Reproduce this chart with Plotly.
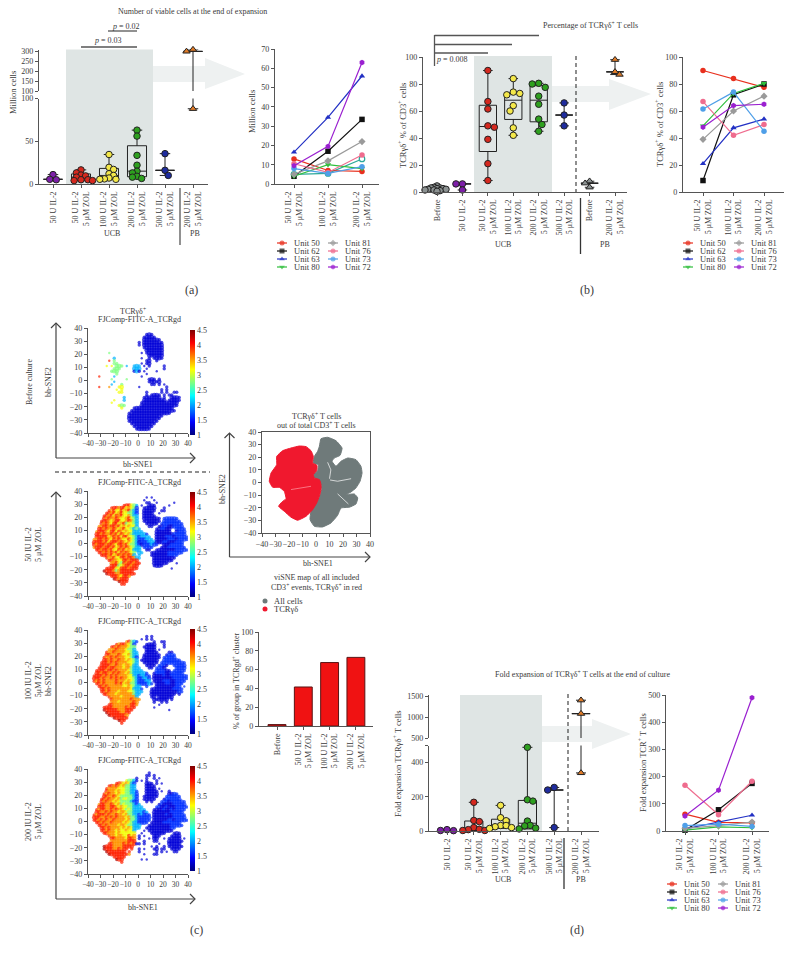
import plotly.graph_objects as go

W, H = 793, 956
FONT = "Liberation Serif"
INK = "#3a3a3a"
AXC = "#555555"
LINEK = "#222222"

# ------------------- data ---------------------
UNITS = ["Unit 50", "Unit 62", "Unit 63", "Unit 80", "Unit 81", "Unit 76", "Unit 73", "Unit 72"]
UNIT_COLORS = ["#e8301e", "#111111", "#2230c4", "#2fbf3c", "#9a9a9a", "#ef6c8e", "#4f9fe8", "#9a20d0"]
UNIT_SYMBOLS = ["circle", "square", "triangle-up", "triangle-down", "diamond", "circle", "circle", "hexagon"]
LINE_TICKS = ["50 U IL-2<br>5 μM ZOL", "100 U IL-2<br>5 μM ZOL", "200 U IL-2<br>5 μM ZOL"]

A_TICKS = ["50 U IL-2", "50 U IL-2<br>5 μM ZOL", "100 U IL-2<br>5 μM ZOL", "200 U IL-2<br>5 μM ZOL",
           "500 U IL-2<br>5 μM ZOL", "200 U IL-2<br>5 μM ZOL"]
B_TICKS = ["Before", "50 U IL-2", "50 U IL-2<br>5 μM ZOL", "100 U IL-2<br>5 μM ZOL", "200 U IL-2<br>5 μM ZOL",
           "500 U IL-2<br>5 μM ZOL", "Before", "200 U IL-2<br>5 μM ZOL"]

A_LINES = [[13, 7, 6.5], [4, 17, 33.5], [16.5, 34.5, 56], [4, 10, 8], [5, 12, 22], [10.5, 6, 15], [8, 5.5, 9], [9.5, 19.5, 63]]
A_EXTRA = [5, 5.5, 13]
A_50 = [11, 5.5, 5]
A_500 = [35.5, 16, 10]
A_PB = [307, 298, 88]

B_LINES = [[90, 84, 77.5], [8.5, 72, 80], [21, 47.5, 54], [49, 73, 80.5], [39, 60, 71], [67, 42, 50], [61.5, 74, 45], [48, 64, 65]]
B_BEFORE = [4.5, 3.5, 3, 3, 2.5, 2.5, 2, 2, 1.5, 1.5, 1, 0.5]
B_50 = [6, 6, 1.5]
B_500 = [66, 57, 49]
B_PB_BEFORE = [8, 6.5, 3.5]
B_PB = [98, 89, 87]

D_LINES = [[62, 32, 30], [3, 78, 175], [8, 32, 58], [3, 15, 12], [10, 20, 33], [168, 60, 183], [20, 25, 17], [55, 150, 490]]
D_50 = [8, 3, 2]
D_500 = [255, 240, 20]
D_PB = [1400, 1080, 340]

BAR_TICKS = ["Before", "50 U IL-2<br>5 μM ZOL", "100 U IL-2<br>5 μM ZOL", "200 U IL-2<br>5 μM ZOL"]
BAR_VALUES = [1.5, 41.5, 67.5, 73]

GROUP_COLORS = {"purple": "#7d1fa8", "red": "#d5281e", "yellow": "#f4e84a", "green": "#2ea01f",
                "blue": "#1f2c9e", "orange": "#e07b27", "grey": "#8c9292"}

# colour level read per 2x2-unit cell, top row y=39 .. bottom row y=-39, left col x=-39 .. right col x=39
LEVELS = {"1": 1.3, "2": 1.6, "3": 2.05, "4": 2.75, "5": 3.15, "6": 3.55, "7": 3.95, "8": 4.35}
E = "." * 20
TSNE_BEFORE = [
 E+E, E+E,
 E+"...111..............",
 E+"..11111.............",
 E+"..1111111...........",
 E+"1.11111111..........",
 E+"1.11111111..........",
 E+"..11111111..........",
 E+"...1111111..........",
 "........4..........."+".1.1111111..........",
 "...................."+"....111111..........",
 "..........3........."+".1..1.1111..........",
 "........7.4........."+"...11..1............",
 "..........44........"+".1.11...............",
 ".......5.5.444.3..33"+"3.1.1.....1.........",
 "..........444.....33"+"3..1......1.........",
 ".........444......13"+"1.1....1............",
 "...........4........"+"...1................",
 "....7.....3........."+".1..................",
 ".........4.....4...."+"....111.1...........",
 "..........3........."+"....11111...........",
 ".........3...4......"+".....11.1.1.........",
 "....7...6...55......"+"1..........1........",
 "...........5.5......"+".........1.1........",
 "............55......"+"...1.....1.1..11....",
 E+"...1.1111.1.11......",
 "..............3....."+"..1111111.1..1111...",
 "..........5...3....."+"..111111111.11111...",
 ".........5.........."+".111111111111111....",
 "............544....."+".111111111111111....",
 ".............5....11"+"11111111111111......",
 ".................111"+"111111111111111.....",
 "................1111"+"1111111111111.......",
 "................1111"+"1111111111..........",
 "................1111"+"111111111...........",
 "................1111"+"11111111............",
 ".................111"+"1111111.............",
 "..................11"+"111111..............",
 "...................1"+"11111...............",
 E+E,
]
TSNE_50 = [
 E+E, E+E,
 E+"...1.1..............",
 E+"..1...1.............",
 E+"...11..1......1.....",
 "..............777543"+".1..111.....1.......",
 ".........77767756542"+"..11111...1.........",
 "........767557567432"+"..11111..11.........",
 ".......7767567554432"+"..1111..1...........",
 "......77675767556433"+"..11111.............",
 "......76766765567543"+"..1111111.222222....",
 ".....777656775567643"+"..1111111.2222222...",
 ".....767657756745543"+"...11111.222222222..",
 "....6677677675656553"+"....11..1122112222..",
 "....7767667656755434"+"3......112211..2222.",
 "...67776577576565533"+"33.....111111..1222.",
 "...77676676757656433"+"3332...111111122222.",
 "...77777567675775543"+"23333..1111222122222",
 "..667767657676557543"+"222333.1111122212222",
 "..777767577767656543"+"122233311122111222..",
 "..767776776577675443"+"21222322..11122222..",
 "..677767767567676543"+"3.2222...1112222222.",
 "...77677675576756533"+"3..11..1111111122222",
 "....776767675767654."+"33...1111111222222..",
 ".....77767567676763."+"3....11111112222....",
 ".......7667557767763"+"3.....111111111.....",
 "........776655776777"+"......11111111......",
 ".........66754767767"+"7.....111111...1....",
 ".........77745677677"+"......1111..........",
 ".......7777557776777"+".............1......",
 "......877764677777.."+E,
 ".......877766777777."+E,
 ".........77765776..."+E,
 "..........876777...."+E,
 "............8777...."+E,
 ".............77....."+E,
 E+E, E+E, E+E, E+E,
]
TSNE_100 = [
 E+E, E+E,
 E+"...1.1..............",
 E+".1.1.1..............",
 "...............67432"+"......1..11.........",
 "...........76776542."+"...1111...1.........",
 ".........7767666544."+"..11111...1.........",
 "........66676665443."+"...1111.1...........",
 ".......7667666655433"+"...11111....11......",
 ".......7766676556433"+"..1111111..1222.....",
 "......76676766655432"+"..1111111.22222.....",
 "......77676676656543"+".1111111..2222222...",
 ".....777676766665543"+"..111111.2222222222.",
 ".....777766766566533"+"...1111.2221..22222.",
 "....7777677666566433"+"3...11.2221....2222.",
 "...77776776766665433"+"33.....222211.22222.",
 "...77677667676656433"+"3332..122221122222..",
 "..777767676766665533"+"23322.11112112222222",
 "..777676676767665543"+"22332.11111111222222",
 "..767676666766656543"+"22233.1111222112222.",
 "...77676666767566443"+"222232.11112211222..",
 "....7767666666556543"+"3..2...1111111122.2.",
 ".....776766666666533"+"32...1111111112222..",
 ".....776766656665543"+"33...1111111111122..",
 "......77666566666643"+"3....1111111111.1...",
 "........766665666663"+".....11.111111......",
 ".........76666666766"+"6.....111111.1......",
 ".........66656666676"+"......1..1.1........",
 "........776666666776"+"........1...........",
 "......7777666667677."+"......1.............",
 "......877777666777.."+"............1.......",
 ".......8777776677..."+E,
 "........87777776...."+E,
 "..........877777...."+E,
 "............877....."+E,
 ".............7......"+E,
 E+E, E+E, E+E, E+E,
]
TSNE_200 = [
 E+E,
 E+"....1...............",
 E+"...11.1.............",
 "...................1"+"...1..1.1...........",
 "...............54431"+".1.1...1............",
 "...........77656532."+"...111.1.1..........",
 "........77676564433."+"...1111.............",
 ".......766665554433."+"...1111.1...........",
 ".......7666565544332"+"...11111.1..1.......",
 "......76766565544332"+"...11111....1122....",
 "......77667654444432"+"..111111...222222...",
 ".....776766564554432"+"..11111...1222222...",
 ".....767665654444322"+"...1.1...2221222222.",
 "....6776676564544432"+"3.......12111122222.",
 "....7776677656554433"+"33.....2211211122222",
 "...76776676766545433"+"333...1111211212222.",
 "...77667676656654433"+"3323..111111122222..",
 "..767776766766564433"+"23222.1111121122222.",
 "..777667676766656443"+"22222.1111111122222.",
 "..776767667666656443"+"22222.11111122122222",
 "...77676676666565433"+"2222.111112222222...",
 "....7767666656654433"+"3...11111111122222..",
 ".....776766665656533"+"3..111111111122.....",
 ".....77676656556553."+"..1.1111111111......",
 "......7766656555555."+".1...111111...111...",
 "........76656655756."+"1.1...111....1111...",
 ".........7766665776."+"1...1.11..1.11111.1.",
 ".........6666666777."+"..1...11....111111..",
 "........776666767671"+"1.1.....1...11111...",
 "......877766667777.."+".....1.1..1.111111..",
 "......8777667677.7.."+"1.1...11.11..1111...",
 ".......87777777.7..."+"1......1.1.1..11....",
 "........877777776..."+"..1...11............",
 "..........77777....."+E,
 "...........877......"+".1.1................",
 ".............7......"+E,
 E+E, E+E, E+E, E+E,
]
SNE_X = [-39 + 2 * i for i in range(40)]
SNE_Y = [39 - 2 * i for i in range(40)]
SNE_TICKS = list(range(-40, 41, 10))
CB_TICKS = [1, 1.5, 2, 2.5, 3, 3.5, 4, 4.5]

RED_X = [-18.5, -12.3, -7.4, -3.7, -2.0, -2.5, 0.7, 0.5, -2.0, -1.2, 2.5, 3.7, 3.7, 2.5, 0.5, -2.5, -7.4, -13.6, -18.5, -23.5, -27.7, -25.2, -22.2, -23.5, -27.2, -32.1, -34.6, -33.3, -29.1, -29.1, -24.7, -18.5]
RED_Y = [27.3, 28.9, 28.4, 25.2, 20.7, 15.5, 13.6, 9.4, 6.2, 3.6, 2.3, -1.7, -5.6, -10.9, -16.2, -21.5, -26.8, -29.9, -27.5, -22.8, -18.8, -15.4, -12.8, -7, -3.8, -3.8, 0.9, 7.5, 14.1, 20.7, 25.2, 27.3]
GREY_X = [2.5, 3.7, 8.6, 14.8, 19.3, 17.8, 13.6, 11.9, 14.8, 18.5, 23.5, 29.6, 33.3, 34.1, 32.6, 29.6, 25.9, 22.2, 28.4, 30.9, 29.6, 24.7, 18.5, 16, 11.1, 4.9, -1.2, -4.4, -3.7, -1.2, 2.5, 4.2, 3.7, 2, -2, -2, 1.2, 1.7, -2, -1.2, 1.2, 2.5]
GREY_Y = [28.7, 34.7, 35.8, 33.1, 27.3, 21.5, 19.4, 16.8, 12.8, 16.8, 19.4, 18.1, 12.8, 7.5, 0.9, -4.3, -7.5, -9.6, -9.1, -12.2, -17, -19.6, -20.2, -26, -32, -35.2, -34.7, -29.4, -22.8, -18, -11.7, -5.6, -1.7, 2.3, 4.1, 6.2, 9.4, 14.1, 15.5, 20.7, 24.7, 28.7]
SLIT_GREY_X = [[8.6, 11, 10], [10.4, 16, 26], [16, 20, 24]]
SLIT_GREY_Y = [[16, 10, 3], [2, 1, 3], [-9, -13, -17]]
SLIT_RED_X = [-18.5, -3.7]
SLIT_RED_Y = [-5.6, -3]

# ------------------- scaffolding ---------------------
fig = go.Figure()
layout = dict(
    width=W, height=H, margin=dict(l=0, r=0, t=0, b=0, autoexpand=False),
    paper_bgcolor="white", plot_bgcolor="rgba(0,0,0,0)", showlegend=False, boxmode="overlay",
    font=dict(family=FONT, size=8, color=INK),
    xaxis=dict(domain=[0, 1], range=[0, W], visible=False, fixedrange=True),
    yaxis=dict(domain=[0, 1], range=[H, 0], visible=False, fixedrange=True),
)
shapes, annots = [], []
_n = [1]


def axes(x0, x1, ytop, ybot, xr, yr, xkw=None, ykw=None):
    _n[0] += 1
    n = _n[0]
    base = dict(showgrid=False, zeroline=False, showline=True, linecolor=AXC, linewidth=1.4,
                ticks="outside", ticklen=3, tickwidth=1, tickcolor=AXC,
                tickfont=dict(family=FONT, size=8, color=INK), fixedrange=True)
    xa = dict(base, domain=[x0 / W, x1 / W], range=xr, anchor=f"y{n}")
    ya = dict(base, domain=[1 - ybot / H, 1 - ytop / H], range=yr, anchor=f"x{n}")
    xa.update(xkw or {})
    ya.update(ykw or {})
    layout[f"xaxis{n}"] = xa
    layout[f"yaxis{n}"] = ya
    return f"x{n}", f"y{n}"


def cat_range(x0, x1, c0, sp):
    return [(x0 - c0) / sp, (x1 - c0) / sp]


CAT_FONT = dict(family=FONT, size=8, color=INK)
SNE_FONT = dict(family=FONT, size=7.5, color=INK)


def txt(x, y, s, size=8, angle=0, anchor="center", color=INK):
    annots.append(dict(x=x, y=y, xref="x", yref="y", text=s, showarrow=False, textangle=angle,
                       xanchor=anchor, yanchor="middle",
                       font=dict(family=FONT, size=size, color=color)))


def seg(x0, y0, x1, y1, color=AXC, width=1.3, dash=None):
    shapes.append(dict(type="line", xref="x", yref="y", x0=x0, y0=y0, x1=x1, y1=y1,
                       line=dict(color=color, width=width, dash=dash), layer="below"))


def shade(x0, y0, x1, y1):
    shapes.append(dict(type="rect", xref="x", yref="y", x0=x0, y0=y0, x1=x1, y1=y1,
                       fillcolor="#dfe5e4", line=dict(width=0), layer="below"))


def block_arrow(x0, x1, xh, ytop, ybot, htop, hbot, ymid):
    p = f"M{x0},{ytop} L{xh},{ytop} L{xh},{htop} L{x1},{ymid} L{xh},{hbot} L{xh},{ybot} L{x0},{ybot} Z"
    shapes.append(dict(type="path", xref="x", yref="y", path=p, fillcolor="#eef1f1",
                       line=dict(width=0), layer="below"))


def chevron(x, y, direction):
    if direction == "up":
        p = f"M{x-5},{y+5} L{x},{y} L{x+5},{y+5}"
    else:
        p = f"M{x-5},{y-5} L{x},{y} L{x-5},{y+5}"
    shapes.append(dict(type="path", xref="x", yref="y", path=p, line=dict(color="#444", width=1.2), layer="below"))


def swarm(vals, px_per_unit, sp_px, diam):
    placed, out = [], []
    for i, v in enumerate(sorted(vals, reverse=True)):
        py = v * px_per_unit
        cands = [0]
        for k in range(1, 12):
            s = 1 if (i % 2 == 0) else -1
            cands += [s * k * diam * 0.5, -s * k * diam * 0.5]
        for c in cands:
            if all(((c - a) ** 2 + (py - b) ** 2) ** 0.5 >= diam * 0.85 for a, b in placed):
                placed.append((c, py))
                out.append((c / sp_px, v))
                break
    return out


def dots(xa, ya, pos, vals, color, ppu, sp, symbol="circle", size=6.5, diam=6.5):
    pts = swarm(vals, ppu, sp, diam)
    fig.add_trace(go.Scatter(x=[pos + p[0] for p in pts], y=[p[1] for p in pts], mode="markers", xaxis=xa, yaxis=ya,
                             cliponaxis=False, hoverinfo="skip",
                             marker=dict(color=color, size=size, symbol=symbol, line=dict(color=LINEK, width=1))))


def fullbox(xa, ya, pos, vals, width=0.68):
    fig.add_trace(go.Box(x=[pos] * len(vals), y=vals, xaxis=xa, yaxis=ya, width=width, boxpoints=False,
                         quartilemethod="exclusive", whiskerwidth=0.55, fillcolor="rgba(0,0,0,0)",
                         line=dict(color=LINEK, width=1), hoverinfo="skip"))


def rangebox(xa, ya, pos, vals, width=0.68):
    s = sorted(vals)
    m = s[len(s) // 2] if len(s) % 2 else (s[len(s) // 2] + s[len(s) // 2 - 1]) / 2
    fig.add_trace(go.Box(x=[pos], q1=[m], median=[m], q3=[m], lowerfence=[s[0]], upperfence=[s[-1]],
                         xaxis=xa, yaxis=ya, width=width, whiskerwidth=0.55, fillcolor="rgba(0,0,0,0)",
                         line=dict(color=LINEK, width=1), hoverinfo="skip"))


def line_panel(x0, x1, ytop, ybot, c0, sp, yr, dtick, lines, extra=None):
    xa, ya = axes(x0, x1, ytop, ybot, cat_range(x0, x1, c0, sp), yr,
                  dict(tickvals=[0, 1, 2], ticktext=LINE_TICKS, tickangle=-90, tickfont=CAT_FONT),
                  dict(dtick=dtick))
    if extra:
        fig.add_trace(go.Scatter(x=[0, 1, 2], y=extra, xaxis=xa, yaxis=ya, mode="lines+markers", cliponaxis=False,
                                 hoverinfo="skip", line=dict(color="#2ca89a", width=1.2),
                                 marker=dict(color="white", size=5.5, line=dict(color="#2ca89a", width=1.2))))
    for vals, col, sym in zip(lines, UNIT_COLORS, UNIT_SYMBOLS):
        fig.add_trace(go.Scatter(x=[0, 1, 2], y=vals, xaxis=xa, yaxis=ya, mode="lines+markers", cliponaxis=False,
                                 hoverinfo="skip", line=dict(color=col, width=1.2),
                                 marker=dict(color=col, size=5.5, symbol=sym)))


def legend(x1, x2, y0):
    for i, (nm, col, sym) in enumerate(zip(UNITS, UNIT_COLORS, UNIT_SYMBOLS)):
        mx = x1 if i < 4 else x2
        my = y0 + (i % 4) * 8
        fig.add_trace(go.Scatter(x=[mx - 5, mx, mx + 5], y=[my] * 3, mode="lines+markers", xaxis="x", yaxis="y",
                                 hoverinfo="skip", line=dict(color=col, width=1.2),
                                 marker=dict(color=col, size=[0, 5, 0], symbol=sym, line=dict(width=0))))
        txt(mx + 9.5, my, nm, size=8.5, anchor="left")


# invisible overlay first so it sits beneath everything
fig.add_trace(go.Scatter(x=[0], y=[0], mode="markers", marker=dict(size=0, opacity=0), xaxis="x", yaxis="y", hoverinfo="skip"))

# ------------------- panel a ---------------------
c0, sp = 53, 28
xr = cat_range(39, 208, c0, sp)
shade(66, 49.5, 153, 184)
block_arrow(153, 245, 205, 66, 82, 58, 89, 74)
xa, ya = axes(39, 208, 98.5, 184, xr, [0, 100],
              dict(tickvals=list(range(6)), ticktext=A_TICKS, tickangle=-90, tickfont=CAT_FONT), dict(tickvals=[0, 50, 100]))
xu, yu = axes(39, 208, 49.5, 91, xr, [100, 307.5],
              dict(visible=False), dict(tickvals=[100, 150, 200, 250, 300]))
ppu = 85.5 / 100
a_cols = [[v[j] for v in A_LINES] + [A_EXTRA[j]] for j in range(3)]
rangebox(xa, ya, 0, A_50)
for i, col in enumerate(["red", "yellow", "green"]):
    fullbox(xa, ya, i + 1, a_cols[i])
rangebox(xa, ya, 4, A_500)
rangebox(xa, ya, 5, A_PB, 0.68)
rangebox(xu, yu, 5, A_PB, 0.68)
dots(xa, ya, 0, A_50, GROUP_COLORS["purple"], ppu, sp)
for i, col in enumerate(["red", "yellow", "green"]):
    dots(xa, ya, i + 1, a_cols[i], GROUP_COLORS[col], ppu, sp, diam=4.6)
dots(xa, ya, 4, A_500, GROUP_COLORS["blue"], ppu, sp)
dots(xu, yu, 5, [v for v in A_PB if v > 100], GROUP_COLORS["orange"], 0.2, sp, "triangle-up", 6.5)
dots(xa, ya, 5, [v for v in A_PB if v <= 100], GROUP_COLORS["orange"], ppu, sp, "triangle-up", 6.5)
txt(192, 11, "Number of viable cells at the end of expansion", 8)
txt(126, 26, "<i>p</i> = 0.02", 8)
txt(108, 40, "<i>p</i> = 0.03", 8)
seg(108, 31, 137, 31)
seg(81, 47, 137, 47)
seg(180, 188, 180, 245)
txt(112, 233, "UCB", 8)
txt(195, 233, "PB", 8)
txt(13, 93, "Million cells", 8.5, -90)
txt(191, 290, "(a)", 12)
line_panel(275, 379, 49, 184, 294, 34, [0, 70], 10, A_LINES, A_EXTRA)
txt(252, 112, "Million cells", 8.5, -90)
legend(282, 333, 243)

# ------------------- panel b ---------------------
c0, sp = 437, 178 / 7
shade(474, 56, 552, 192)
block_arrow(552, 651, 609, 86, 102, 79, 110, 94)
seg(576, 56, 576, 192, "#333", 1.1, "4px,3px")
xa, ya = axes(423, 627, 57, 192, cat_range(423, 627, c0, sp), [0, 100],
              dict(tickvals=list(range(8)), ticktext=B_TICKS, tickangle=-90, tickfont=CAT_FONT), dict(dtick=20))
ppu = 1.35
b_cols = [[v[j] for v in B_LINES] for j in range(3)]
rangebox(xa, ya, 0, B_BEFORE)
rangebox(xa, ya, 1, B_50)
for i in range(3):
    fullbox(xa, ya, i + 2, b_cols[i])
rangebox(xa, ya, 5, B_500)
rangebox(xa, ya, 6, B_PB_BEFORE)
rangebox(xa, ya, 7, B_PB)
dots(xa, ya, 0, B_BEFORE, GROUP_COLORS["grey"], ppu, sp, diam=3)
dots(xa, ya, 1, B_50, GROUP_COLORS["purple"], ppu, sp)
for i, col in enumerate(["red", "yellow", "green"]):
    dots(xa, ya, i + 2, b_cols[i], GROUP_COLORS[col], ppu, sp)
dots(xa, ya, 5, B_500, GROUP_COLORS["blue"], ppu, sp)
dots(xa, ya, 6, B_PB_BEFORE, GROUP_COLORS["grey"], ppu, sp, "triangle-up", diam=4.5)
dots(xa, ya, 7, B_PB, GROUP_COLORS["orange"], ppu, sp, "triangle-up", diam=4.5)
txt(590, 25, "Percentage of TCRγδ<sup>+</sup> T cells", 8)
seg(434.5, 35, 434.5, 66)
seg(434.5, 35.5, 539, 35.5)
seg(434.5, 44.5, 512, 44.5)
seg(434.5, 53, 488, 53)
txt(452, 59, "<i>p</i> = 0.008", 8)
seg(580.5, 198, 580.5, 254, "#333")
txt(503, 244, "UCB", 8)
txt(605, 244, "PB", 8)
txt(402, 126, "TCRγδ<sup>+</sup> % of CD3<sup>+</sup> cells", 8.5, -90)
txt(587, 290, "(b)", 12)
line_panel(683, 784, 57, 192, 703, 30.5, [0, 100], 20, B_LINES)
txt(659, 125, "TCRγδ<sup>+</sup> % of CD3<sup>+</sup> cells", 8.5, -90)
legend(688, 739, 243)

# ------------------- panel c ---------------------
JET = [[0, "#00007f"], [0.125, "#0000ff"], [0.375, "#00ffff"], [0.625, "#ffff00"], [0.875, "#ff0000"], [1, "#7f0000"]]


def tsne(ytop, ybot, rows, cbt, cbb, title):
    xa, ya = axes(88, 188, ytop, ybot, [-40, 40], [-40, 40],
                  dict(tickvals=SNE_TICKS, tickangle=0, tickfont=SNE_FONT), dict(tickvals=SNE_TICKS))
    padded = [r.ljust(40, ".")[:40] for r in rows]

    def filled(i, j):
        return 0 <= i < 40 and 0 <= j < 40 and padded[i][j] in LEVELS

    cx, cy, cv, cs = [], [], [], []
    for i, yv in enumerate(SNE_Y):
        for j, xv in enumerate(SNE_X):
            if filled(i, j):
                nb = sum(filled(i + a, j + b) for a, b in ((1, 0), (-1, 0), (0, 1), (0, -1)))
                cx.append(xv)
                cy.append(yv)
                cv.append(LEVELS[padded[i][j]])
                cs.append(4.6 if nb >= 3 else (3.4 if nb >= 1 else 2.4))
    fig.add_trace(go.Scatter(
        x=cx, y=cy, xaxis=xa, yaxis=ya, mode="markers", hoverinfo="skip",
        marker=dict(size=cs, color=cv, colorscale=JET, cmin=1, cmax=4.5, line=dict(width=0),
                    colorbar=dict(thickness=5, len=cbb - cbt, lenmode="pixels", x=190 / W, xanchor="left",
                                  y=1 - (cbt + cbb) / 2 / H, yanchor="middle", ypad=0, xpad=0, outlinewidth=0, ticks="",
                                  tickvals=CB_TICKS, ticktext=[f"{v:g}" for v in CB_TICKS],
                                  tickfont=dict(family=FONT, size=8, color=INK)))))
    if title:
        txt(139, ytop - 8.5, title, 8)


tsne(328, 433, TSNE_BEFORE, 330, 435, "FJComp-FITC-A_TCRgd")
tsne(491, 596, TSNE_50, 492, 597, "FJComp-FITC-A_TCRgd")
tsne(630, 735, TSNE_100, 629, 734, "FJComp-FITC-A_TCRgd")
tsne(769, 874, TSNE_200, 766, 871, "FJComp-FITC-A_TCRgd")
txt(133, 311, "TCRγδ<sup>+</sup>", 8)
seg(56, 323, 56, 458, "#444", 1.2)
seg(56, 458, 195, 458, "#444", 1.2)
chevron(56, 323, "up")
chevron(195, 458, "right")
seg(56, 492, 56, 899, "#444", 1.2)
seg(56, 899, 195, 899, "#444", 1.2)
chevron(56, 492, "up")
chevron(195, 899, "right")
seg(55, 472, 210, 472, "#222", 1.1, "4px,3px")
txt(138, 464, "bh-SNE1", 8)
txt(143, 907, "bh-SNE1", 8)
txt(48, 382, "bh-SNE2", 8, -90)
txt(29, 382, "Before culture", 8, -90)
txt(33, 545, "50 IU IL-2<br>5 μM ZOL", 8, -90)
txt(33, 681, "100 IU IL-2<br>5μM ZOL", 8, -90)
txt(48, 681, "bh-SNE2", 8, -90)
txt(33, 822, "200 IU IL-2<br>5 μM ZOL", 8, -90)
txt(196, 930, "(c)", 12)

xa, ya = axes(262, 370, 432, 533, [-40, 40], [-40, 40],
              dict(tickvals=SNE_TICKS, mirror=True, tickangle=0), dict(tickvals=SNE_TICKS, mirror=True))
fig.add_trace(go.Scatter(x=GREY_X, y=GREY_Y, xaxis=xa, yaxis=ya, mode="lines", fill="toself", hoverinfo="skip",
                         fillcolor="#6f7a7a", line=dict(color="#6f7a7a", width=1, shape="spline", smoothing=0.4)))
fig.add_trace(go.Scatter(x=RED_X, y=RED_Y, xaxis=xa, yaxis=ya, mode="lines", fill="toself", hoverinfo="skip",
                         fillcolor="#f0182e", line=dict(color="#f0182e", width=1, shape="spline", smoothing=0.4)))
for sx, sy in zip(SLIT_GREY_X, SLIT_GREY_Y):
    fig.add_trace(go.Scatter(x=sx, y=sy, xaxis=xa, yaxis=ya, mode="lines", hoverinfo="skip",
                             line=dict(color="white", width=0.7)))
fig.add_trace(go.Scatter(x=SLIT_RED_X, y=SLIT_RED_Y, xaxis=xa, yaxis=ya, mode="lines", hoverinfo="skip",
                         line=dict(color="#ff9aa5", width=0.7)))
txt(316, 416, "TCRγδ<sup>+</sup> T cells", 8)
txt(316, 425, "out of total CD3<sup>+</sup> T cells", 8)
seg(229.5, 433, 229.5, 557, "#444", 1.2)
seg(229.5, 557, 370, 557, "#444", 1.2)
chevron(229.5, 433, "up")
chevron(370, 557, "right")
txt(222, 489, "bh-SNE2", 8, -90)
txt(318, 563, "bh-SNE1", 8)
txt(316, 577, "viSNE map of all included", 8)
txt(316, 587, "CD3<sup>+</sup> events, TCRγδ<sup>+</sup> in red", 8)
fig.add_trace(go.Scatter(x=[265, 265], y=[601, 609], mode="markers", xaxis="x", yaxis="y", hoverinfo="skip",
                         marker=dict(color=["#6f7a7a", "#f0182e"], size=5)))
txt(272, 601, "All cells", 8.5, anchor="left")
txt(272, 609, "TCRγδ", 8.5, anchor="left")

xa, ya = axes(259, 373, 632, 726, cat_range(259, 373, 277, 26.3), [0, 100],
              dict(tickvals=[0, 1, 2, 3], ticktext=BAR_TICKS, tickangle=-90, tickfont=CAT_FONT), dict(dtick=20))
fig.add_trace(go.Bar(x=[0, 1, 2, 3], y=BAR_VALUES, xaxis=xa, yaxis=ya, width=0.68, hoverinfo="skip",
                     marker=dict(color="#f01212", line=dict(color="#5a1414", width=1))))
txt(236, 681, "% of group in TCRgd<sup>+</sup> cluster", 8, -90)

# ------------------- panel d ---------------------
c0, sp = 447, 26.8
xr = cat_range(429, 599, c0, sp)
shade(460, 695, 542, 831)
block_arrow(542, 631, 592, 726, 742, 719, 749, 734)
seg(568, 694, 568, 831, "#333", 1.1, "4px,3px")
xa, ya = axes(429, 599, 745.6, 831, xr, [0, 500],
              dict(tickvals=list(range(6)), ticktext=A_TICKS, tickangle=-90, tickfont=CAT_FONT),
              dict(tickvals=[0, 200, 400, 500], ticktext=["0", "200", "400", ""]))
xu, yu = axes(429, 599, 695, 738, xr, [500, 1524],
              dict(visible=False), dict(tickvals=[500, 1000, 1500]))
ppu = 85.4 / 500
d_cols = [[v[j] for v in D_LINES] for j in range(3)]
rangebox(xa, ya, 0, D_50)
for i in range(3):
    fullbox(xa, ya, i + 1, d_cols[i])
rangebox(xa, ya, 4, D_500)
rangebox(xa, ya, 5, D_PB)
rangebox(xu, yu, 5, D_PB)
dots(xa, ya, 0, D_50, GROUP_COLORS["purple"], ppu, sp)
for i, col in enumerate(["red", "yellow", "green"]):
    dots(xa, ya, i + 1, d_cols[i], GROUP_COLORS[col], ppu, sp, diam=5.5)
dots(xa, ya, 4, D_500, GROUP_COLORS["blue"], ppu, sp)
dots(xu, yu, 5, [v for v in D_PB if v > 500], GROUP_COLORS["orange"], 0.042, sp, "triangle-up")
dots(xa, ya, 5, [v for v in D_PB if v <= 500], GROUP_COLORS["orange"], ppu, sp, "triangle-up")
txt(582, 674, "Fold expansion of TCRγδ<sup>+</sup> T cells at the end of culture", 8)
seg(564, 838, 564, 889, "#333")
txt(503, 879, "UCB", 8)
txt(581, 879, "PB", 8)
txt(397, 764, "Fold expansion TCRγδ<sup>+</sup> T cells", 8.5, -90)
txt(577, 930, "(d)", 12)
line_panel(666, 769, 695, 831, 685, 33.5, [0, 500], 100, D_LINES)
txt(642, 763, "Fold expansion TCR<sup>+</sup> T cells", 8.5, -90)
legend(672, 723, 884)

layout["shapes"] = shapes
layout["annotations"] = annots
fig.update_layout(**layout)
fig.write_html("out.html", config={"displayModeBar": False},
               post_script="document.body.style.margin='0';document.body.style.overflow='hidden';")
